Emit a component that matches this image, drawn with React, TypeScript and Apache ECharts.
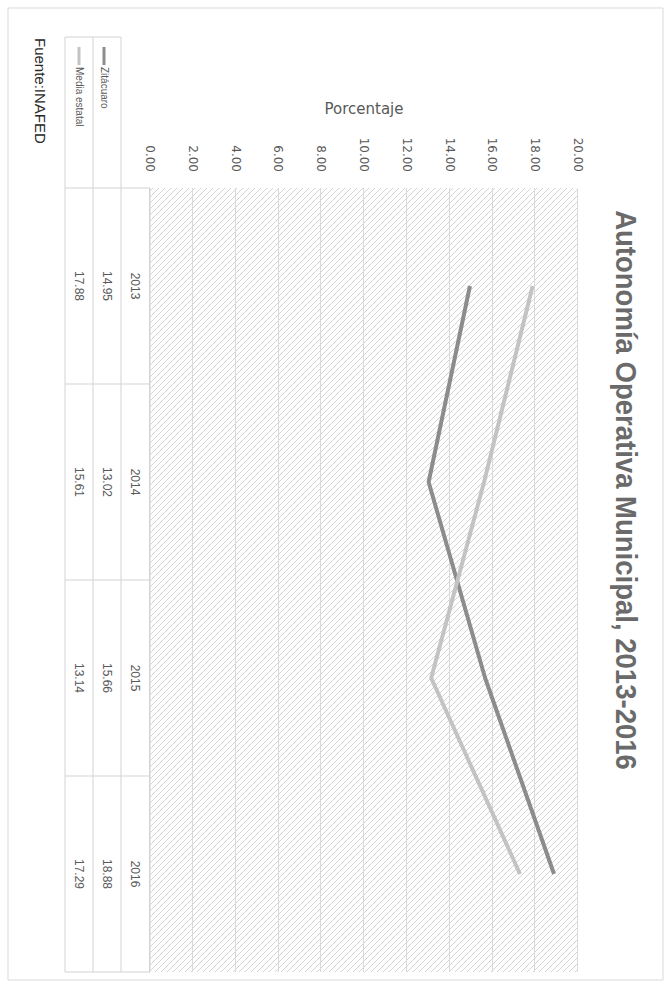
import React, { useEffect, useRef } from "react";
import * as echarts from "echarts";

const titleText = "Autonomía Operativa Municipal, 2013-2016";
const sourceText = "Fuente:INAFED";
const axisName = "Porcentaje";
const years = ["2013", "2014", "2015", "2016"];
const seriesNames = ["Zitácuaro", "Media estatal"];
const zitacuaro = [14.95, 13.02, 15.66, 18.88];
const mediaEstatal = [17.88, 15.61, 13.14, 17.29];
const valueMin = 0;
const valueMax = 20;
const valueStep = 2;
const seriesColors = ["#8c8c8c", "#c3c3c3"];

// unrotated canvas (the whole chart is turned 90deg clockwise on the page)
const W = 989;
const H = 671;
const GRID = { left: 188, top: 93, width: 784, height: 428 };
const ROW_H = [29, 28, 28];
const LEGEND_COL_LEFT = 37;
const LINE_C = "#d3d3d3";
const TEXT_C = "#595959";
const TITLE_FONT = "bold 29px 'Liberation Sans', Arial, sans-serif";
const TITLE_WIDTH = 560;

const hatch =
  "data:image/svg+xml;utf8," +
  encodeURIComponent(
    "<svg xmlns='http://www.w3.org/2000/svg' width='6' height='6'><path d='M0 0L6 6M-1 5L1 7M5 -1L7 1' stroke='#d4d4d4' stroke-width='1'/></svg>"
  );

function measure(text: string, font: string): number {
  const c = document.createElement("canvas").getContext("2d");
  if (!c) return TITLE_WIDTH;
  c.font = font;
  return c.measureText(text).width;
}

export default function App() {
  const ref = useRef<HTMLDivElement>(null);
  useEffect(() => {
    if (!ref.current) return;
    const chart = echarts.init(ref.current, null, { renderer: "svg" });
    const data = [zitacuaro, mediaEstatal];
    const option: any = {
      animation: false,
      backgroundColor: "#ffffff",
      legend: {
        data: seriesNames,
        orient: "vertical",
        left: LEGEND_COL_LEFT + 5,
        top: GRID.top + GRID.height + ROW_H[0] + 7,
        itemWidth: 18,
        itemHeight: 3,
        itemGap: 15,
        icon: "rect",
        textStyle: {
          fontFamily: "'Liberation Sans', sans-serif",
          fontSize: 10,
          color: TEXT_C,
          padding: [0, 0, 0, -3],
        },
      },
      grid: {
        left: GRID.left,
        top: GRID.top,
        width: GRID.width,
        height: GRID.height,
        show: true,
        borderWidth: 0,
        backgroundColor: { image: hatch, repeat: "repeat", imageWidth: 6, imageHeight: 6 },
      },
      xAxis: {
        type: "category",
        data: years,
        boundaryGap: true,
        axisLine: { show: true, lineStyle: { color: LINE_C, width: 1 } },
        axisTick: { show: false },
        axisLabel: {
          margin: 9,
          fontFamily: "'Liberation Sans', sans-serif",
          fontSize: 12,
          color: TEXT_C,
        },
        splitLine: { show: false },
      },
      yAxis: {
        type: "value",
        min: valueMin,
        max: valueMax,
        interval: valueStep,
        name: axisName,
        nameLocation: "middle",
        nameRotate: 90,
        nameGap: 72,
        nameTextStyle: { fontFamily: "'DejaVu Sans', sans-serif", fontSize: 15, color: TEXT_C },
        axisLine: { show: false },
        axisTick: { show: false },
        axisLabel: {
          margin: 16,
          fontFamily: "'DejaVu Sans', sans-serif",
          fontSize: 12,
          color: TEXT_C,
          formatter: (v: number) => v.toFixed(2),
        },
        splitLine: { show: true, lineStyle: { color: "#d9d9d9", width: 1 } },
      },
      series: seriesNames.map((name, i) => ({
        name,
        type: "line",
        data: data[i],
        symbol: "none",
        lineStyle: { width: 4, color: seriesColors[i] },
        itemStyle: { color: seriesColors[i] },
      })),
    };
    chart.setOption(option);

    const centers = years.map((y) => chart.convertToPixel({ xAxisIndex: 0 }, y) as number);
    const half = (centers[1] - centers[0]) / 2;
    const edges = [centers[0] - half, ...centers.map((c) => c + half)];
    const tableTop = chart.convertToPixel({ yAxisIndex: 0 }, valueMin) as number;
    const rowEdges = [tableTop];
    ROW_H.forEach((h) => rowEdges.push(rowEdges[rowEdges.length - 1] + h));
    const right = edges[edges.length - 1];

    const titleScale = TITLE_WIDTH / measure(titleText, TITLE_FONT);

    const g: any[] = [
      {
        type: "rect",
        shape: { x: 8, y: 8, width: W - 17, height: H - 16 },
        style: { fill: "none", stroke: "#d9d9d9", lineWidth: 1 },
        silent: true,
        z: -1,
      },
      {
        type: "text",
        x: 490,
        y: 45,
        scaleX: titleScale,
        silent: true,
        style: {
          text: titleText,
          fill: "#6a6a6a",
          font: TITLE_FONT,
          align: "center",
          verticalAlign: "middle",
        },
      },
    ];
    // horizontal table lines
    rowEdges.forEach((y, i) => {
      g.push({
        type: "line",
        shape: { x1: i === 0 ? edges[0] : LEGEND_COL_LEFT, y1: y, x2: right, y2: y },
        style: { stroke: LINE_C, lineWidth: 1 },
        silent: true,
      });
    });
    // vertical table lines
    edges.forEach((x) => {
      g.push({
        type: "line",
        shape: { x1: x, y1: rowEdges[0], x2: x, y2: rowEdges[3] },
        style: { stroke: LINE_C, lineWidth: 1 },
        silent: true,
      });
    });
    g.push({
      type: "line",
      shape: { x1: LEGEND_COL_LEFT, y1: rowEdges[1], x2: LEGEND_COL_LEFT, y2: rowEdges[3] },
      style: { stroke: LINE_C, lineWidth: 1 },
      silent: true,
    });
    // table values
    data.forEach((arr, r) => {
      const cy = (rowEdges[r + 1] + rowEdges[r + 2]) / 2;
      arr.forEach((v, i) => {
        g.push({
          type: "text",
          x: centers[i],
          y: cy,
          silent: true,
          style: {
            text: v.toFixed(2),
            fill: TEXT_C,
            fontSize: 12,
            fontFamily: "'Liberation Sans', sans-serif",
            align: "center",
            verticalAlign: "middle",
          },
        });
      });
    });
    g.push({
      type: "text",
      x: 38,
      y: 631,
      silent: true,
      style: {
        text: sourceText,
        fill: "#262626",
        fontSize: 15,
        fontFamily: "'Liberation Sans', sans-serif",
        align: "left",
        verticalAlign: "middle",
      },
    });
    chart.setOption({ graphic: g });

    return () => chart.dispose();
  }, []);

  return (
    <div
      style={{
        position: "fixed",
        left: 0,
        top: 0,
        width: H,
        height: W,
        overflow: "hidden",
        background: "#fff",
      }}
    >
      <div
        ref={ref}
        style={{
          position: "absolute",
          left: 0,
          top: 0,
          width: W,
          height: H,
          transformOrigin: "0 0",
          transform: `translate(${H}px, 0px) rotate(90deg)`,
        }}
      />
    </div>
  );
}
